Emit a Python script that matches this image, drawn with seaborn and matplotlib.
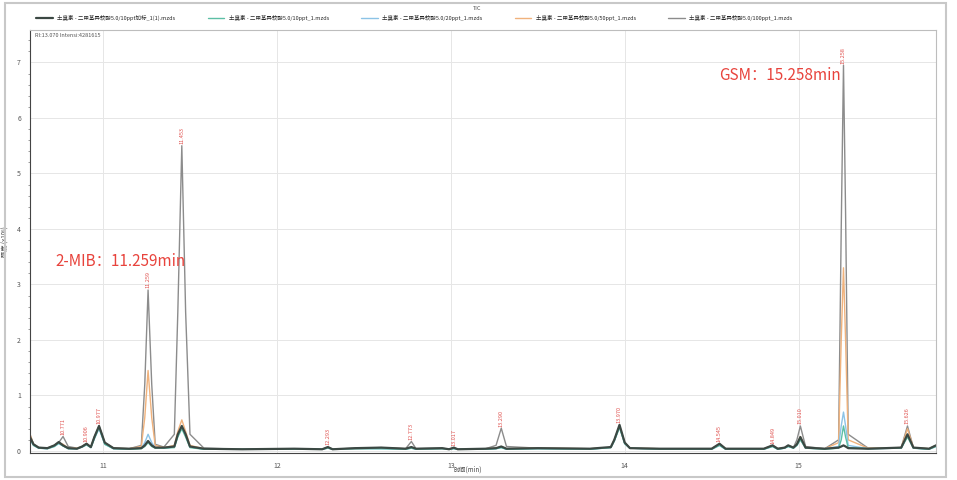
from __future__ import annotations

import matplotlib

matplotlib.use("Agg")

import matplotlib.pyplot as plt
import pandas as pd
import seaborn as sns
from matplotlib.patches import Rectangle
from matplotlib.ticker import MultipleLocator

# retention time grid (min) shared by all traces
TIMES = [
    10.58, 10.60, 10.63, 10.68, 10.72, 10.745, 10.77, 10.80, 10.85, 10.88,
    10.905, 10.93, 10.95, 10.977, 11.01, 11.06, 11.15, 11.22, 11.24, 11.259,
    11.28, 11.30, 11.35, 11.41, 11.43, 11.453, 11.475, 11.50, 11.58, 11.80,
    12.10, 12.26, 12.293, 12.32, 12.45, 12.60, 12.74, 12.773, 12.80, 12.95,
    12.99, 13.017, 13.04, 13.20, 13.26, 13.29, 13.32, 13.50, 13.80, 13.92,
    13.94, 13.97, 14.00, 14.03, 14.20, 14.50, 14.545, 14.58, 14.80, 14.85,
    14.88, 14.92, 14.94, 14.97, 14.99, 15.01, 15.04, 15.15, 15.23, 15.245,
    15.258, 15.27, 15.285, 15.40, 15.59, 15.626, 15.66, 15.75, 15.79,
]

# intensity (x10^6), one list per sample
SPIKED_10 = [
    0.25, 0.12, 0.06, 0.05, 0.10, 0.16, 0.10, 0.05, 0.04, 0.08,
    0.13, 0.07, 0.25, 0.45, 0.15, 0.05, 0.04, 0.05, 0.10, 0.18,
    0.10, 0.06, 0.06, 0.08, 0.30, 0.45, 0.30, 0.08, 0.04, 0.03,
    0.04, 0.03, 0.07, 0.03, 0.05, 0.06, 0.04, 0.07, 0.04, 0.05,
    0.03, 0.06, 0.03, 0.04, 0.05, 0.08, 0.04, 0.05, 0.04, 0.07,
    0.20, 0.47, 0.15, 0.05, 0.04, 0.04, 0.13, 0.04, 0.04, 0.10,
    0.04, 0.06, 0.10, 0.06, 0.12, 0.25, 0.06, 0.04, 0.06, 0.08,
    0.10, 0.08, 0.05, 0.04, 0.06, 0.30, 0.06, 0.04, 0.10,
]
STD_10 = [
    0.22, 0.10, 0.05, 0.04, 0.08, 0.14, 0.09, 0.04, 0.04, 0.07,
    0.11, 0.06, 0.22, 0.42, 0.12, 0.04, 0.03, 0.04, 0.08, 0.15,
    0.08, 0.05, 0.05, 0.06, 0.25, 0.40, 0.25, 0.06, 0.03, 0.03,
    0.03, 0.03, 0.05, 0.03, 0.04, 0.04, 0.03, 0.05, 0.03, 0.04,
    0.03, 0.04, 0.03, 0.03, 0.04, 0.06, 0.03, 0.04, 0.03, 0.06,
    0.18, 0.42, 0.13, 0.05, 0.03, 0.03, 0.10, 0.03, 0.03, 0.08,
    0.03, 0.05, 0.08, 0.05, 0.10, 0.20, 0.05, 0.03, 0.05, 0.20,
    0.45, 0.25, 0.06, 0.04, 0.05, 0.25, 0.05, 0.03, 0.08,
]
STD_20 = [
    0.20, 0.10, 0.05, 0.04, 0.08, 0.13, 0.09, 0.04, 0.04, 0.07,
    0.11, 0.06, 0.22, 0.40, 0.12, 0.04, 0.03, 0.05, 0.15, 0.30,
    0.15, 0.06, 0.05, 0.07, 0.28, 0.42, 0.28, 0.07, 0.03, 0.03,
    0.03, 0.03, 0.05, 0.03, 0.04, 0.04, 0.03, 0.05, 0.03, 0.04,
    0.03, 0.04, 0.03, 0.03, 0.04, 0.06, 0.03, 0.04, 0.03, 0.06,
    0.18, 0.43, 0.13, 0.05, 0.03, 0.03, 0.10, 0.03, 0.03, 0.08,
    0.03, 0.05, 0.08, 0.05, 0.10, 0.22, 0.05, 0.04, 0.08, 0.45,
    0.70, 0.45, 0.10, 0.04, 0.05, 0.28, 0.05, 0.03, 0.08,
]
STD_50 = [
    0.30, 0.12, 0.06, 0.05, 0.10, 0.15, 0.12, 0.05, 0.05, 0.08,
    0.13, 0.07, 0.25, 0.44, 0.15, 0.05, 0.04, 0.08, 0.60, 1.45,
    0.60, 0.10, 0.06, 0.10, 0.35, 0.56, 0.35, 0.10, 0.04, 0.03,
    0.04, 0.03, 0.06, 0.03, 0.04, 0.05, 0.04, 0.06, 0.04, 0.04,
    0.03, 0.05, 0.03, 0.04, 0.05, 0.08, 0.04, 0.05, 0.04, 0.06,
    0.20, 0.45, 0.15, 0.05, 0.04, 0.04, 0.12, 0.04, 0.04, 0.09,
    0.04, 0.06, 0.09, 0.06, 0.12, 0.26, 0.06, 0.04, 0.15, 2.00,
    3.30, 2.00, 0.20, 0.05, 0.06, 0.40, 0.06, 0.04, 0.10,
]
STD_100 = [
    0.30, 0.12, 0.06, 0.05, 0.10, 0.15, 0.26, 0.08, 0.05, 0.08,
    0.13, 0.07, 0.25, 0.45, 0.15, 0.05, 0.04, 0.10, 1.20, 2.90,
    1.20, 0.12, 0.07, 0.30, 2.50, 5.50, 2.50, 0.30, 0.05, 0.03,
    0.04, 0.03, 0.07, 0.03, 0.05, 0.06, 0.04, 0.17, 0.04, 0.05,
    0.03, 0.05, 0.03, 0.04, 0.10, 0.41, 0.08, 0.05, 0.04, 0.06,
    0.20, 0.45, 0.15, 0.05, 0.04, 0.04, 0.12, 0.04, 0.04, 0.10,
    0.04, 0.06, 0.10, 0.06, 0.20, 0.45, 0.08, 0.04, 0.20, 4.00,
    6.95, 4.30, 0.30, 0.05, 0.06, 0.45, 0.06, 0.04, 0.10,
]

SERIES_NAMES = [
    "土臭素 - 二甲基异莰醇5.0/10ppt加标_1(1).mzds",
    "土臭素 - 二甲基异莰醇5.0/10ppt_1.mzds",
    "土臭素 - 二甲基异莰醇5.0/20ppt_1.mzds",
    "土臭素 - 二甲基异莰醇5.0/50ppt_1.mzds",
    "土臭素 - 二甲基异莰醇5.0/100ppt_1.mzds",
]
SERIES_VALUES = [SPIKED_10, STD_10, STD_20, STD_50, STD_100]
SERIES_COLORS = ["#3b4843", "#5cbfa5", "#8cc3e6", "#f0b27c", "#8c8c8c"]

# retention-time labels printed above the peaks
PEAK_TIMES = [10.77, 10.905, 10.977, 11.259, 11.453, 12.293, 12.773, 13.017,
              13.29, 13.97, 14.545, 14.85, 15.01, 15.258, 15.626]
PEAK_LABELS = ["10.771", "10.906", "10.977", "11.259", "11.453", "12.293", "12.773",
               "13.017", "13.290", "13.970", "14.545", "14.849", "15.010", "15.258",
               "15.626"]

ANNOTATIONS = [("2-MIB：11.259min", 10.724, 3.42), ("GSM：15.258min", 14.545, 6.77)]

sns.set_style("white")
plt.rcParams["font.family"] = ["Noto Sans CJK SC", "DejaVu Sans"]

frames = []
for name, values in zip(SERIES_NAMES, SERIES_VALUES):
    frames.append(pd.DataFrame({"time": TIMES, "signal": values, "sample": name}))
plot_df = pd.concat(frames, ignore_index=True)

fig = plt.figure(figsize=(9.57, 4.8), dpi=100)
ax = fig.add_axes([30 / 957, 27.4 / 480, 906 / 957, 422.6 / 480])

# draw the largest traces first so the small ones stay visible on top
for name, color in reversed(list(zip(SERIES_NAMES, SERIES_COLORS))):
    sub = plot_df[plot_df["sample"] == name]
    sns.lineplot(
        data=sub, x="time", y="signal", color=color, ax=ax, label=name,
        linewidth=1.6 if name == SERIES_NAMES[0] else 1.0, estimator=None, sort=False,
    )

ax.set_xlim(10.58, 15.79)
ax.set_ylim(-0.03, 7.585)
ax.xaxis.set_major_locator(MultipleLocator(1))
ax.yaxis.set_major_locator(MultipleLocator(1))
ax.yaxis.set_minor_locator(MultipleLocator(0.2))
ax.tick_params(axis="both", which="major", labelsize=5, colors="#555555", length=3, width=0.6)
ax.tick_params(axis="y", which="minor", left=True, length=1.5, width=0.5, color="#777777")
ax.grid(True, which="major", color="#e6e6e6", linewidth=0.7)
for side in ["top", "right"]:
    ax.spines[side].set_color("#bdbdbd")
for side in ["left", "bottom"]:
    ax.spines[side].set_color("#444444")
for spine in ax.spines.values():
    spine.set_linewidth(0.8)

ax.set_xlabel("时间(min)", fontsize=4.5, color="#444444")
ax.xaxis.set_label_coords(0.483, -0.03)
ax.set_ylabel("强度 (x10⁶)", fontsize=4.5, color="#444444")
ax.yaxis.set_label_coords(-0.022, 0.5)

handles, labels = ax.get_legend_handles_labels()
ax.get_legend().remove()
order = [labels.index(n) for n in SERIES_NAMES]
fig.legend(
    [handles[i] for i in order], [labels[i] for i in order],
    loc="center", bbox_to_anchor=(0.433, 0.963), ncol=5, frameon=False,
    fontsize=4, handlelength=3, handletextpad=0.8, columnspacing=5.8,
)
fig.text(477 / 957, 1 - 8 / 480, "TIC", fontsize=4, color="#555555", ha="center", va="center")
ax.text(0.006, 0.992, "RI:13.070 Intensi:4281615", transform=ax.transAxes,
        fontsize=4, color="#555555", ha="left", va="top")

# peak retention-time labels
for t, lab in zip(PEAK_TIMES, PEAK_LABELS):
    idx = TIMES.index(t)
    top = max(v[idx] for v in SERIES_VALUES)
    ax.text(t, top + 0.03, lab, rotation=90, fontsize=4, color="#e0524f",
            ha="center", va="bottom")

for text, x, y in ANNOTATIONS:
    ax.text(x, y, text, fontsize=11, color="#e8433c", ha="left", va="center")

fig.patches.append(Rectangle((5 / 957, 3 / 480), 941 / 957, 474 / 480,
                             transform=fig.transFigure, fill=False,
                             edgecolor="#c8c8c8", linewidth=1.5))

fig.savefig("out.png", dpi=100)
plt.close(fig)
